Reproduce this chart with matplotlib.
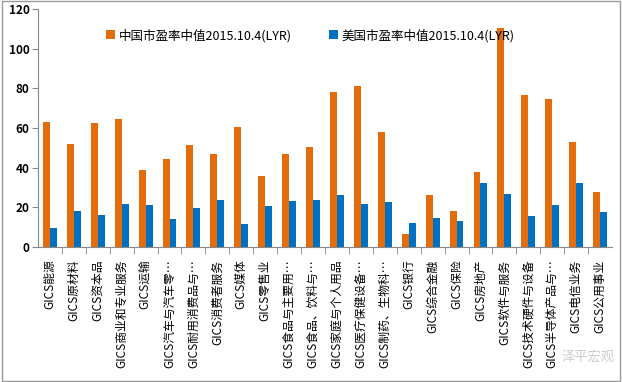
import numpy as np
import matplotlib.pyplot as plt

plt.rcParams['font.family'] = ['Noto Sans CJK SC', 'DejaVu Sans']

sectors = ['GICS能源', 'GICS原材料', 'GICS资本品', 'GICS商业和专业服务', 'GICS运输',
           'GICS汽车与汽车零…', 'GICS耐用消费品与…', 'GICS消费者服务', 'GICS媒体',
           'GICS零售业', 'GICS食品与主要用…', 'GICS食品、饮料与…', 'GICS家庭与个人用品',
           'GICS医疗保健设备…', 'GICS制药、生物科…', 'GICS银行', 'GICS综合金融',
           'GICS保险', 'GICS房地产', 'GICS软件与服务', 'GICS技术硬件与设备',
           'GICS半导体产品与…', 'GICS电信业务', 'GICS公用事业']
china_pe = [63.1, 52.0, 62.6, 64.6, 38.9, 44.4, 51.5, 47.0, 60.6, 35.9, 47.0, 50.5,
            78.3, 81.3, 58.1, 6.6, 26.3, 18.2, 37.9, 110.6, 76.8, 74.7, 53.0, 27.8]
us_pe = [9.6, 18.2, 16.2, 21.7, 21.2, 14.1, 19.7, 23.7, 11.6, 20.7, 23.2, 23.7,
         26.3, 21.7, 22.7, 12.1, 14.6, 13.1, 32.3, 26.8, 15.7, 21.2, 32.3, 17.7]

fig = plt.figure(figsize=(6.22, 3.82), dpi=100)
ax = fig.add_axes([0.061, 0.353, 0.923, 0.623])

x = np.arange(len(sectors))
w = 0.29
ax.bar(x - w / 2, china_pe, w, color='#E46C0A', label='中国市盈率中值2015.10.4(LYR)')
ax.bar(x + w / 2, us_pe, w, color='#0070C0', label='美国市盈率中值2015.10.4(LYR)')

ax.set_xlim(-0.5, len(sectors) - 0.5)
ax.set_ylim(0, 120)
ax.set_yticks(range(0, 121, 20))
for lbl in ax.get_yticklabels():
    lbl.set_fontweight('bold')
ax.tick_params(axis='y', labelsize=8.5, length=4, color='#888888', pad=2)

ax.set_xticks(x)
ax.set_xticklabels(sectors, rotation=90, fontsize=8.5)
ax.tick_params(axis='x', length=0, pad=9)
ax.set_xticks(x[:-1] + 0.5, minor=True)
ax.tick_params(axis='x', which='minor', length=5, color='#888888')

for s in ['top', 'right']:
    ax.spines[s].set_visible(False)
for s in ['left', 'bottom']:
    ax.spines[s].set_color('#888888')

ax.legend(loc='upper center', bbox_to_anchor=(0.475, 0.965), ncol=2, frameon=False,
          fontsize=9, handlelength=0.7, handleheight=0.7, columnspacing=3.0,
          handletextpad=0.3)

fig.text(0.902, 0.055, '泽平宏观', fontsize=9.5, color='#cccccc')
fig.patches.append(plt.Rectangle((0.003, 0.003), 0.994, 0.994, transform=fig.transFigure,
                                 fill=False, edgecolor='#999999', linewidth=1))

fig.savefig('out.png', dpi=100)
